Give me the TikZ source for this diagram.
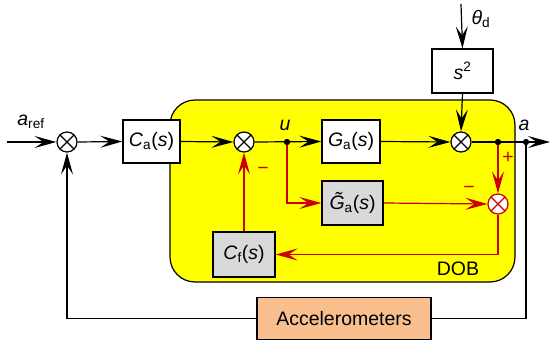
\documentclass[tikz,border=0pt]{standalone}
\usepackage{fontspec}
\setmainfont{Liberation Sans}
\usetikzlibrary{arrows.meta}
\definecolor{dobyellow}{HTML}{FFFF00}
\definecolor{dobred}{HTML}{CC0000}
\definecolor{boxgray}{HTML}{D9D9D9}
\definecolor{peach}{HTML}{F9BF8F}
\newcommand\lsub[1]{\textsubscript{#1}}
\begin{document}
\begin{tikzpicture}[x=1pt,y=-1pt, font=\fontsize{19.5}{22}\selectfont,
 blk/.style={draw, line width=1.3pt, fill=white, minimum width=58pt, minimum height=43pt, inner sep=0pt},
 gblk/.style={blk, fill=boxgray},
 sumnode/.style={circle, draw, line width=1.2pt, fill=white, minimum size=20pt, inner sep=0pt,
   path picture={\draw[line width=1.2pt] (path picture bounding box.south west)--(path picture bounding box.north east) (path picture bounding box.north west)--(path picture bounding box.south east);}},
 dotnode/.style={circle, fill, minimum size=6pt, inner sep=0pt},
 sig/.style={line width=1.2pt, -{Stealth[length=22pt,width=12pt,inset=9pt]}},
 plain/.style={line width=1.2pt},
 redsig/.style={sig, dobred},
 lbl/.style={inner sep=0pt}
]
\useasboundingbox (0,0) rectangle (550,340);
% DOB region
\draw[line width=1.2pt, fill=dobyellow, rounded corners=25pt] (170,100) rectangle (515,282);
\node[lbl] (dob) at (458,269) {DOB};

% nodes
\node[sumnode] (s1) at (67,142) {};
\node[blk, minimum width=57pt] (ca) at (151.5,141.5) {\textit{C}\lsub{a}(\textit{s})};
\node[sumnode] (s2) at (244,142) {};
\node[dotnode] (ud) at (287,142) {};
\node[blk] (ga) at (351,141.5) {\textit{G}\lsub{a}(\textit{s})};
\node[sumnode] (s3) at (461,142) {};
\node[blk, minimum width=61pt, minimum height=44pt] (sq) at (462.5,71) {\textit{s}\textsuperscript{2}};
\node[dotnode] (da) at (498,142) {};
\node[dotnode] (db) at (526,142) {};
\node[sumnode, draw=dobred, path picture={\draw[line width=1.2pt, dobred] (path picture bounding box.south west)--(path picture bounding box.north east) (path picture bounding box.north west)--(path picture bounding box.south east);}] (s4) at (498,204) {};
\node[gblk, minimum width=61pt, minimum height=44pt] (gt) at (352.5,203) {\textit{\~{G}}\lsub{a}(\textit{s})};
\node[gblk, minimum width=62pt, minimum height=45pt] (cf) at (244,254.5) {\textit{C}\lsub{f}(\textit{s})};
\node[blk, fill=peach, minimum width=174pt, minimum height=42pt] (acc) at (344,318.5) {Accelerometers};

\coordinate (in) at (7,142);
\coordinate (out) at (550,142);
\coordinate (top) at (461,4);

% labels
\node[lbl] (aref) at (31,122) {\textit{a}\lsub{ref}};
\node[lbl] (ulbl) at (285,125) {\textit{u}};
\node[lbl] (albl) at (524,125) {\textit{a}};
\node[lbl] (thlbl) at (481,19) {\textit{θ}\lsub{d}};
\node[lbl, text=dobred] (m1) at (263,171) {−};
\node[lbl, text=dobred] (m2) at (469,190) {−};
\node[lbl, text=dobred] (p1) at (508,158) {+};

% black signals
\draw[sig] (in) -- (s1.west);
\draw[sig] (s1.east) -- (ca.west);
\draw[sig] (ca.east) -- (s2.west);
\draw[sig] (s2.east) -- (ga.west);
\draw[sig] (ga.east) -- (s3.west);
\draw[sig] (top) -- (sq.north);
\draw[sig] (sq.south) -- (s3.north);
\draw[sig] (s3.east) -- (out);
\draw[plain] (db) |- (acc.east);
\draw[sig] (acc.west) -| (s1.south);

% red signals
\draw[redsig] (ud) |- (gt.west);
\draw[redsig] (gt.east) -- (s4.west);
\draw[redsig] (da) -- (s4.north);
\draw[redsig] (s4.south) |- (cf.east);
\draw[redsig] (cf.north) -- (s2.south);
\node[dotnode] at (ud) {};
\node[dotnode] at (da) {};
\node[dotnode] at (db) {};
\end{tikzpicture}
\end{document}
